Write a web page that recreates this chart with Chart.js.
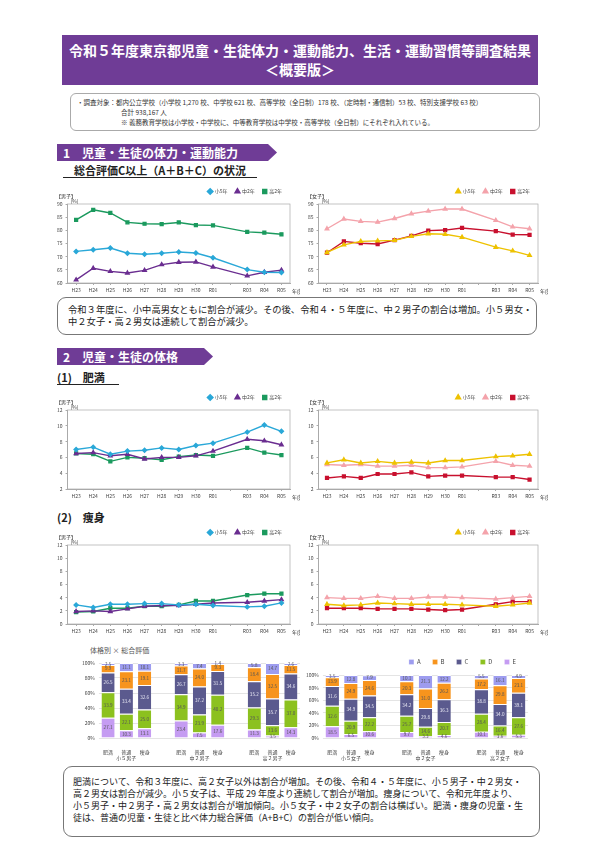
<!DOCTYPE html>
<html lang="ja">
<head>
<meta charset="utf-8">
<script src="https://cdn.jsdelivr.net/npm/chart.js@4.4.1/dist/chart.umd.min.js"></script>
<style>
  html, body { margin: 0; padding: 0; background: #fff; }
  body { width: 600px; height: 848px; position: relative; overflow: hidden;
         font-family: "Noto Sans CJK JP", "Noto Sans", sans-serif; color: #222; }
  .abs { position: absolute; }
  .title { left: 62px; top: 35px; width: 476px; height: 50px; background: #6f3c96; color: #fff;
           font-weight: bold; font-size: 14px; line-height: 19px; text-align: center; padding-top: 6px; box-sizing: border-box; white-space: nowrap; }
  .info { left: 70px; top: 93px; width: 470px; height: 38px; border: 1px solid #aaa; border-radius: 6px;
          box-sizing: border-box; font-size: 6.5px; line-height: 10px; padding: 3px 0 0 6px; color: #333; white-space: nowrap; }
  .info .ind { padding-left: 44px; }
  .sec { background: #6f3c96; color: #fff; font-weight: bold; font-size: 12px; line-height: 17px; padding-left: 6px;
         box-sizing: border-box; clip-path: polygon(0 0, calc(100% - 9px) 0, 100% 50%, calc(100% - 9px) 100%, 0 100%); }
  .sub { font-weight: bold; font-size: 11px; line-height: 14px; border-bottom: 1.5px solid #222; white-space: nowrap; }
  .note { border: 1px solid #777; border-radius: 9px; box-sizing: border-box; font-size: 9px; line-height: 12px; white-space: nowrap; }
  .box { position: absolute; }
</style>
</head>
<body>
<div class="abs title">令和５年度東京都児童・生徒体力・運動能力、生活・運動習慣等調査結果<br>＜概要版＞</div>
<div class="abs info">・調査対象：都内公立学校（小学校 1,270 校、中学校 621 校、高等学校（全日制）178 校、（定時制・通信制）53 校、特別支援学校 63 校）<br>
  <span class="ind">合計 938,167 人</span><br>
  <span class="ind">※ 義務教育学校は小学校・中学校に、中等教育学校は中学校・高等学校（全日制）にそれぞれ入れている。</span></div>

<div class="abs sec" style="left:57px;top:144px;width:220px;height:17px">1　児童・生徒の体力・運動能力</div>
<div class="abs sub" style="left:63px;top:163px;width:194px;text-align:center">総合評価C以上（A＋B＋C）の状況</div>
<div class="box" style="left:52px;top:181px;width:248px;height:114px"><canvas id="fitM"></canvas></div>
<div class="box" style="left:303px;top:181px;width:245px;height:114px"><canvas id="fitF"></canvas></div>
<div class="abs note" style="left:57px;top:297px;width:480px;height:38px;padding:5px 0 0 10px;font-size:9.3px">令和３年度に、小中高男女ともに割合が減少。その後、令和４・５年度に、中２男子の割合は増加。小５男女・<br>中２女子・高２男女は連続して割合が減少。</div>

<div class="abs sec" style="left:57px;top:348px;width:156px;height:17px">2　児童・生徒の体格</div>
<div class="abs sub" style="left:57px;top:370px;width:62px">(1)　肥満</div>
<div class="box" style="left:52px;top:387px;width:248px;height:114px"><canvas id="obeM"></canvas></div>
<div class="box" style="left:303px;top:387px;width:245px;height:114px"><canvas id="obeF"></canvas></div>
<div class="abs" style="left:57px;top:510px;font-weight:bold;font-size:11px;line-height:14px">(2)　痩身</div>
<div class="box" style="left:52px;top:522px;width:248px;height:114px"><canvas id="thinM"></canvas></div>
<div class="box" style="left:303px;top:522px;width:245px;height:114px"><canvas id="thinF"></canvas></div>

<div class="abs" style="left:90px;top:645px;font-size:7px;color:#555">体格別 × 総合評価</div>
<div class="box" style="left:78px;top:647px;width:224px;height:117px"><canvas id="barM"></canvas></div>
<div class="box" style="left:302px;top:647px;width:228px;height:117px"><canvas id="barF"></canvas></div>

<div class="abs note" style="left:63px;top:766px;width:477px;height:71px;padding:9px 0 0 9px">肥満について、令和３年度に、高２女子以外は割合が増加。その後、令和４・５年度に、小５男子・中２男女・<br>高２男女は割合が減少。小５女子は、平成 29 年度より連続して割合が増加。痩身について、令和元年度より、<br>小５男子・中２男子・高２男女は割合が増加傾向。小５女子・中２女子の割合は横ばい。肥満・痩身の児童・生<br>徒は、普通の児童・生徒と比べ体力総合評価（A+B+C）の割合が低い傾向。</div>

<script>
Chart.defaults.font.family = '"Noto Sans CJK JP", "Noto Sans", sans-serif';
Chart.defaults.font.size = 5;
Chart.defaults.color = '#444';
Chart.defaults.animation = false;

/* ── Data ─────────────────────────────────────────────────────── */
const years = ['H23','H24','H25','H26','H27','H28','H29','H30','R01','','R03','R04','R05'];
const grades = ['小5年','中2年','高2年'];

// 総合評価C以上 (%)
const fitBoys5   = [72.0,72.6,73.3,71.3,70.9,71.3,71.8,71.4,69.6,null,65.1,64.1,64.0];
const fitBoys8   = [61.2,65.6,64.4,63.8,64.8,67.0,67.9,68.0,66.1,null,62.7,64.1,64.9];
const fitBoys11  = [84.0,87.8,86.6,83.0,82.5,82.4,83.0,82.0,81.9,null,79.4,79.1,78.5];
const fitGirls5  = [71.6,74.5,75.8,76.0,76.2,77.7,78.7,78.5,77.4,null,73.6,72.2,70.5];
const fitGirls8  = [80.6,84.3,83.4,83.1,84.5,86.3,87.3,88.1,88.1,null,83.8,81.3,80.6];
const fitGirls11 = [71.5,75.8,75.1,74.8,76.3,77.9,79.9,80.1,80.9,null,79.7,78.4,78.3];

// 肥満 (%)
const obeBoys5   = [7.0,7.3,6.4,6.8,6.9,7.2,7.0,7.5,7.8,null,9.2,10.1,9.3];
const obeBoys8   = [6.5,6.6,6.2,6.4,5.8,6.0,6.0,6.2,6.8,null,8.3,8.1,7.6];
const obeBoys11  = [6.5,6.4,5.5,6.0,5.9,5.7,6.1,6.3,6.2,null,7.2,6.6,6.3];
const obeGirls5  = [5.3,5.7,5.3,5.5,5.3,5.4,5.3,5.6,5.6,null,6.1,6.2,6.4];
const obeGirls8  = [5.1,5.0,5.1,4.9,4.9,5.0,4.7,4.7,4.8,null,5.5,5.0,4.9];
const obeGirls11 = [3.4,3.6,3.4,3.9,3.9,4.1,3.6,3.7,3.7,null,3.5,3.5,3.2];

// 痩身 (%)
const thinBoys5   = [2.9,2.5,3.0,3.0,3.1,3.1,2.9,3.0,2.8,null,2.6,2.7,3.2];
const thinBoys8   = [1.9,2.0,1.9,2.3,2.7,2.8,2.8,3.0,3.2,null,3.3,3.5,3.7];
const thinBoys11  = [1.8,1.9,2.4,2.4,2.7,2.7,2.9,3.5,3.5,null,4.4,4.6,4.6];
const thinGirls5  = [3.0,2.8,2.9,3.2,3.1,3.0,3.0,3.0,2.9,null,2.7,2.9,3.2];
const thinGirls8  = [4.0,3.9,3.9,4.2,3.9,3.9,4.1,4.1,4.0,null,3.8,4.0,4.2];
const thinGirls11 = [2.4,2.4,2.4,2.3,2.3,2.3,2.2,2.1,2.2,null,3.0,3.4,3.4];

// 体格別 × 総合評価 (%) : order 肥満, 普通, 痩身 per group, blank between groups
const barLabelsM = [['肥満'],['普通','小５男子'],['痩身'],'',['肥満'],['普通','中２男子'],['痩身'],'',['肥満'],['普通','高２男子'],['痩身']];
const barLabelsF = [['肥満'],['普通','小５女子'],['痩身'],'',['肥満'],['普通','中２女子'],['痩身'],'',['肥満'],['普通','高２女子'],['痩身']];
const gradeKeys = ['A','B','C','D','E'];
const boysA = [2.5,11.1,10.1,null,3.3,7.4,1.4,null,5.8,14.7,2.6];
const boysB = [9.9,23.1,19.1,null,11.7,24.0,9.3,null,18.4,32.5,11.5];
const boysC = [26.5,33.4,32.6,null,26.7,37.2,31.5,null,35.2,35.7,34.6];
const boysD = [33.9,22.1,25.0,null,34.9,23.9,40.2,null,29.3,13.6,37.0];
const boysE = [27.1,10.3,13.1,null,23.4,7.5,17.6,null,11.3,3.5,14.3];
const girlsA = [3.5,12.8,7.9,null,10.1,21.3,12.2,null,5.5,16.1,4.9];
const girlsB = [13.9,24.9,24.6,null,20.3,31.0,26.2,null,17.2,29.8,23.1];
const girlsC = [31.6,34.9,34.5,null,34.2,29.8,36.3,null,38.8,34.0,39.1];
const girlsD = [32.6,20.9,22.2,null,25.7,14.6,20.7,null,28.4,16.4,27.6];
const girlsE = [18.5,6.5,10.6,null,9.7,3.3,4.6,null,10.1,3.6,5.3];

/* ── Styles ──────────────────────────────────────────────────── */
const boyColors  = ['#2aa8d8', '#6a2d90', '#1b9a5e'];
const girlColors = ['#eec200', '#f4a3ab', '#c8102e'];
const boyPoints  = ['rectRot', 'triangle', 'rect'];
const girlPoints = ['triangle', 'triangle', 'rect'];
const gradeColors = { A: '#9d9cef', B: '#f7941d', C: '#5b5a8e', D: '#8cc11f', E: '#c59cf2' };

/* ── Plugins ─────────────────────────────────────────────────── */
const frame = {
  id: 'frame',
  afterDraw(chart, args, opts) {
    if (!opts.tag) return;
    const { ctx, chartArea: a } = chart;
    ctx.save();
    ctx.strokeStyle = '#aaa';
    ctx.lineWidth = 0.7;
    ctx.strokeRect(a.left, a.top, a.right - a.left, a.bottom - a.top);
    ctx.fillStyle = '#333';
    ctx.font = '5px "Noto Sans CJK JP"';
    ctx.textBaseline = 'alphabetic';
    ctx.fillText(opts.tag, 4, a.top - 6);
    ctx.fillText('(%)', a.left + 3, a.top - 1);
    ctx.fillText('年度', a.right + 2, a.bottom + 10);
    ctx.restore();
  }
};

const segLabels = {
  id: 'segLabels',
  afterDatasetsDraw(chart) {
    const { ctx } = chart;
    ctx.save();
    ctx.font = '4.6px "Noto Sans CJK JP"';
    ctx.textAlign = 'center';
    ctx.textBaseline = 'middle';
    chart.data.datasets.forEach((ds, i) => {
      chart.getDatasetMeta(i).data.forEach((bar, j) => {
        const v = ds.data[j];
        if (v == null) return;
        ctx.fillStyle = ds.label === 'C' ? '#e8e8f4' : '#555';
        ctx.fillText(v.toFixed(1), bar.x, (bar.y + bar.base) / 2);
      });
    });
    ctx.restore();
  }
};

/* ── Line charts ─────────────────────────────────────────────── */
function buildLine(id, tag, series, colors, points, yMin, yMax) {
  return new Chart(document.getElementById(id), {
    type: 'line',
    data: {
      labels: years,
      datasets: series.map((d, i) => ({
        label: grades[i],
        data: d,
        borderColor: colors[i],
        backgroundColor: colors[i],
        borderWidth: 1.4,
        pointStyle: points[i],
        pointRadius: 2,
        spanGaps: true,
        tension: 0,
      })),
    },
    options: {
      responsive: true,
      maintainAspectRatio: false,
      layout: { padding: { left: 2, right: 10, top: 0, bottom: 0 } },
      plugins: {
        legend: {
          position: 'top', align: 'end',
          labels: { usePointStyle: true, boxWidth: 4, boxHeight: 4, padding: 8, font: { size: 5 } },
        },
        tooltip: { enabled: false },
        frame: { tag },
      },
      scales: {
        x: {
          offset: true,
          grid: { drawOnChartArea: false, tickLength: 2, color: '#aaa' },
          border: { color: '#aaa' },
          ticks: { maxRotation: 0, autoSkip: false, padding: 2 },
        },
        y: {
          min: yMin, max: yMax,
          grid: { drawOnChartArea: false, tickLength: 2, color: '#aaa' },
          border: { color: '#aaa' },
          ticks: { stepSize: yMin === 60 ? 5 : 2, padding: 3 },
        },
      },
    },
    plugins: [frame],
  });
}

buildLine('fitM',  '【男子】', [fitBoys5, fitBoys8, fitBoys11],     boyColors,  boyPoints,  60, 90);
buildLine('fitF',  '【女子】', [fitGirls5, fitGirls8, fitGirls11],  girlColors, girlPoints, 60, 90);
buildLine('obeM',  '【男子】', [obeBoys5, obeBoys8, obeBoys11],     boyColors,  boyPoints,  2, 12);
buildLine('obeF',  '【女子】', [obeGirls5, obeGirls8, obeGirls11],  girlColors, girlPoints, 2, 12);
buildLine('thinM', '【男子】', [thinBoys5, thinBoys8, thinBoys11],  boyColors,  boyPoints,  0, 12);
buildLine('thinF', '【女子】', [thinGirls5, thinGirls8, thinGirls11], girlColors, girlPoints, 0, 12);

/* ── Stacked bars ────────────────────────────────────────────── */
function buildBars(id, labels, parts, showLegend) {
  // parts in A..E order; stack bottom-up E, D, C, B, A
  const datasets = gradeKeys.map((k, i) => ({
    label: k,
    data: parts[i],
    backgroundColor: gradeColors[k],
    borderColor: '#fff',
    borderWidth: { top: 1, bottom: 0, left: 0, right: 0 },
    barPercentage: 0.72,
    categoryPercentage: 1,
  })).reverse();
  return new Chart(document.getElementById(id), {
    type: 'bar',
    data: { labels, datasets },
    options: {
      responsive: true,
      maintainAspectRatio: false,
      layout: { padding: { top: showLegend ? 0 : 16, right: 2 } },
      plugins: {
        legend: {
          display: showLegend, reverse: true, position: 'top', align: 'end',
          labels: { boxWidth: 5, boxHeight: 5, padding: 12, font: { size: 6 } },
        },
        tooltip: { enabled: false },
      },
      scales: {
        x: {
          stacked: true,
          grid: { display: false },
          border: { display: false },
          ticks: { maxRotation: 0, autoSkip: false, padding: 3, font: { size: 5 } },
        },
        y: {
          stacked: true, min: 0, max: 100,
          grid: { color: '#e4e4e4', tickLength: 0 },
          border: { display: false },
          ticks: { stepSize: 20, callback: v => v + '%', padding: 4, font: { size: 5 } },
        },
      },
    },
    plugins: [segLabels],
  });
}

buildBars('barM', barLabelsM, [boysA, boysB, boysC, boysD, boysE], false);
buildBars('barF', barLabelsF, [girlsA, girlsB, girlsC, girlsD, girlsE], true);
</script>
</body>
</html>
